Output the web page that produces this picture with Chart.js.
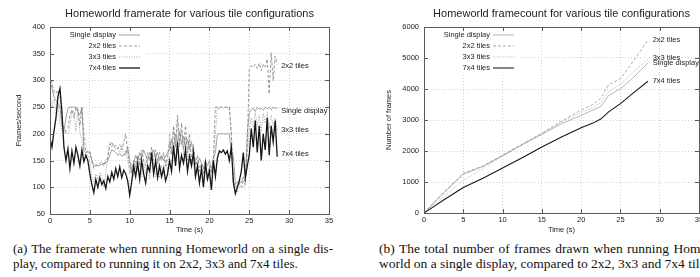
<!DOCTYPE html>
<html>
<head>
<meta charset="utf-8">
<script src="https://cdn.jsdelivr.net/npm/chart.js@4.4.1/dist/chart.umd.min.js"></script>
<style>
  html, body { margin: 0; padding: 0; background: #fff; }
  body { width: 700px; height: 277px; overflow: hidden; position: relative; }
  canvas { position: absolute; top: 0; }
  #rate { left: 0; }
  #count { left: 350px; }
  .caption { position: absolute; font-family: "Liberation Serif", "Times New Roman", serif; font-size: 13px; line-height: 15px; color: #111; }
  .caption div { white-space: nowrap; }
  .caption .just { text-align: justify; text-align-last: justify; white-space: normal; }
</style>
</head>
<body>
<canvas id="rate" width="350" height="240"></canvas>
<canvas id="count" width="360" height="240"></canvas>
<div class="caption" style="left:13px; top:241px; width:320px;">
  <div class="just">(a) The framerate when running Homeworld on a single dis-</div>
  <div>play, compared to running it on 2x2, 3x3 and 7x4 tiles.</div>
</div>
<div class="caption" style="left:379px; top:241px; width:332px; font-size:13.5px;">
  <div class="just">(b) The total number of frames drawn when running Home-</div>
  <div>world on a single display, compared to 2x2, 3x3 and 7x4 tiles.</div>
</div>
<script>
// framerate samples, one every 0.25 s (four per line = one second)
const STEP = 0.25;
const seriesNames = ['Single display', '2x2 tiles', '3x3 tiles', '7x4 tiles'];

const rateSingle = [
  300, 285, 270, 262,  258, 250, 215, 205,  230, 248, 250, 250,  250, 250, 240, 235,
  250, 168, 165, 166,  165, 150, 140, 142,  140, 141, 143, 145,  145, 150, 160, 170,
  168, 165, 160, 163,  158, 160, 162, 175,  150, 130, 145, 160,  150, 165, 155, 170,
  160, 150, 165, 158,  170, 155, 165, 150,  160, 150, 158, 165,  170, 190, 175, 200,
  185, 205, 180, 195,  175, 190, 170, 185,  160, 150, 140, 155,  145, 135, 150, 140,
  150, 130, 155, 165,  200, 200, 200, 200,  200, 200, 200, 165,  160, 105, 110, 112,
  108, 120, 110, 200,  240, 245, 248, 242,  250, 246, 248, 244,  250, 247, 250, 245,
  250, 248, 248
];
const rate2x2 = [
  310, 295, 280, 275,  282, 270, 230, 200,  205, 210, 235, 245,  230, 250, 245, 215,
  248, 200, 165, 168,  168, 150, 135, 140,  142, 145, 148, 140,  150, 155, 178, 185,
  175, 178, 172, 180,  170, 185, 200, 165,  140, 125, 150, 135,  160, 140, 170, 150,
  140, 165, 150, 175,  150, 170, 145, 165,  150, 165, 140, 160,  185, 160, 215, 175,
  235, 180, 220, 170,  215, 165, 200, 150,  180, 140, 160, 130,  145, 125, 150, 120,
  140, 125, 160, 250,  250, 250, 250, 250,  250, 250, 250, 200,  110, 100, 105, 108,
  100, 112, 105, 180,  320, 328, 325, 330,  322, 332, 318, 330,  325, 340, 275, 352,
  300, 345, 330
];
const rate3x3 = [
  280, 250, 265, 240,  255, 220, 205, 215,  200, 200, 210, 245,  240, 205, 250, 200,
  190, 160, 162, 160,  150, 120, 110, 125,  115, 128, 120, 100,  125, 160, 185, 175,
  180, 170, 175, 165,  178, 160, 170, 150,  125, 145, 120, 150,  130, 155, 120, 145,
  125, 150, 115, 160,  135, 120, 155, 118,  140, 125, 150, 130,  200, 165, 210, 180,
  225, 175, 205, 160,  195, 150, 185, 140,  150, 120, 135, 110,  130, 105, 140, 112,
  120, 108, 135, 200,  250, 245, 250, 248,  250, 248, 250, 200,  100,  95,  90, 105,
  102,  98, 110, 160,  205, 230, 210, 240,  215, 235, 205, 238,  220, 240, 210, 235,
  215, 230, 208
];
const rate7x4 = [
  192, 175, 205, 230,  270, 285, 240, 175,  150, 172, 135, 168,  145, 175, 160, 140,
  170, 148, 160, 150,  125, 105,  90, 115,  100, 118, 105, 112,   98, 120, 110, 128,
  115, 135, 120, 138,  118, 132, 125, 112,   85, 110, 140, 120,  145, 115, 150, 125,
  108, 140, 130, 165,  125, 150, 118, 140,  120, 135, 112, 125,  150, 130, 178, 140,
  185, 135, 160, 145,  170, 130, 158, 140,  165, 120, 140, 108,  135, 100, 145, 115,
  130,  95, 150, 120,  155, 168, 165, 170,  162, 168, 150, 175,  110,  88, 100, 112,
  130, 165, 118, 140,  160, 210, 175, 225,  165, 215, 150, 200,  170, 230, 160, 215,
  185, 225, 157
];
const rateTimes = rate7x4.map((v, i) => i * STEP);
const rateLabelY = [243, 328, 208, 163];

// cumulative frame counts
const countTimes = [0, 2.5, 5, 7.5, 10, 12.5, 15, 17.5, 20, 21.5, 22.5, 23.5, 25, 26.5, 28.5];
const countSingle = [0, 650, 1250, 1500, 1850, 2200, 2540, 2880, 3150, 3320, 3440, 3790, 4010, 4330, 4840];
const count2x2 = [0, 660, 1280, 1520, 1860, 2220, 2570, 2960, 3320, 3500, 3700, 4140, 4330, 4850, 5570];
const count3x3 = [0, 520, 1060, 1430, 1840, 2210, 2560, 2930, 3240, 3400, 3560, 3930, 4150, 4530, 4950];
const count7x4 = [0, 420, 820, 1120, 1450, 1780, 2130, 2450, 2750, 2900, 3030, 3260, 3530, 3840, 4250];
const countLabelY = [4829, 5580, 4990, 4258];

const lineStyles = [
  { color: '#8c8c8c', width: 0.8, dash: [] },
  { color: '#7c7c7c', width: 0.8, dash: [3, 2] },
  { color: '#8c8c8c', width: 0.8, dash: [1, 1.5] },
  { color: '#161616', width: 1.3, dash: [] }
];

const SANS = '"Liberation Sans", Arial, Helvetica, sans-serif';

// gnuplot style frame: title, inside ticks, opaque key, end labels
const gnuplotFrame = {
  id: 'gnuplotFrame',
  afterDraw(chart, args, o) {
    const { ctx, chartArea: a, scales: { x, y } } = chart;
    ctx.save();

    // opaque key
    ctx.fillStyle = '#fff';
    ctx.fillRect(a.left + 1, a.top + 1, 94, 46);

    // border + ticks
    ctx.strokeStyle = '#5a5a5a';
    ctx.lineWidth = 1;
    ctx.setLineDash([]);
    ctx.beginPath();
    x.ticks.forEach(t => {
      const px = Math.round(x.getPixelForValue(t.value)) + 0.5;
      ctx.moveTo(px, a.bottom); ctx.lineTo(px, a.bottom - 4);
      ctx.moveTo(px, a.top); ctx.lineTo(px, a.top + 4);
    });
    y.ticks.forEach(t => {
      const py = Math.round(y.getPixelForValue(t.value)) + 0.5;
      ctx.moveTo(a.left, py); ctx.lineTo(a.left + 4, py);
      ctx.moveTo(a.right, py); ctx.lineTo(a.right - 4, py);
    });
    ctx.stroke();
    ctx.strokeRect(Math.round(a.left) + 0.5, Math.round(a.top) + 0.5,
      Math.round(a.width), Math.round(a.height));

    // key rows
    ctx.font = '7.5px ' + SANS;
    ctx.fillStyle = '#222';
    ctx.textBaseline = 'middle';
    seriesNames.forEach((name, i) => {
      const ry = a.top + 7.5 + i * 11;
      ctx.textAlign = 'right';
      ctx.fillText(name, a.left + 66, ry);
      const s = lineStyles[i];
      ctx.strokeStyle = s.color;
      ctx.lineWidth = o.lineScale * s.width;
      ctx.setLineDash(s.dash);
      ctx.beginPath();
      ctx.moveTo(a.left + 69, ry + 0.5);
      ctx.lineTo(a.left + 90, ry + 0.5);
      ctx.stroke();
    });
    ctx.setLineDash([]);

    // labels at line ends
    ctx.textAlign = 'left';
    ctx.fillStyle = '#222';
    seriesNames.forEach((name, i) => {
      ctx.fillText(name, x.getPixelForValue(o.labelX), y.getPixelForValue(o.labelY[i]));
    });

    // title and axis titles
    ctx.textAlign = 'center';
    ctx.font = '11px ' + SANS;
    ctx.fillText(o.title, (a.left + a.right) / 2, 14);
    ctx.font = '7.5px ' + SANS;
    ctx.fillText('Time (s)', (a.left + a.right) / 2, 230);
    ctx.translate(o.yTitleX, (a.top + a.bottom) / 2);
    ctx.rotate(-Math.PI / 2);
    ctx.fillText(o.yTitle, 0, 0);
    ctx.restore();
  }
};

function makeChart(id, times, values, cfg) {
  const datasets = values.map((vals, i) => ({
    label: seriesNames[i],
    data: vals.map((v, k) => ({ x: times[k], y: v })),
    borderColor: lineStyles[i].color,
    borderWidth: lineStyles[i].width * cfg.frame.lineScale,
    borderDash: lineStyles[i].dash,
    pointRadius: 0,
    tension: 0,
    fill: false,
    order: 3 - i
  }));
  const tickFont = { family: SANS, size: 7.5 };
  return new Chart(document.getElementById(id), {
    type: 'line',
    data: { datasets },
    options: {
      responsive: false,
      animation: false,
      layout: { padding: { top: 27, right: cfg.padRight, left: 0, bottom: 0 } },
      plugins: {
        legend: { display: false },
        tooltip: { enabled: false },
        gnuplotFrame: cfg.frame
      },
      scales: {
        x: {
          type: 'linear', min: 0, max: 35,
          ticks: { stepSize: 5, font: tickFont, color: '#222', padding: 2, maxRotation: 0 },
          grid: { color: '#c4c4c4', lineWidth: 0.8, drawTicks: false },
          border: { display: false, dash: [1, 2] },
          afterFit: s => { s.height = cfg.xHeight; }
        },
        y: {
          min: cfg.yMin, max: cfg.yMax,
          ticks: { stepSize: cfg.yStep, font: tickFont, color: '#222', padding: 5, callback: v => String(v) },
          grid: { color: '#c4c4c4', lineWidth: 0.8, drawTicks: false },
          border: { display: false, dash: [1, 2] },
          afterFit: s => { s.width = cfg.yWidth; }
        }
      }
    },
    plugins: [gnuplotFrame]
  });
}

makeChart('rate', rateTimes, [rateSingle, rate2x2, rate3x3, rate7x4], {
  padRight: 21, xHeight: 26, yWidth: 50, yMin: 50, yMax: 400, yStep: 50,
  frame: {
    title: 'Homeworld framerate for various tile configurations',
    yTitle: 'Frames/second', yTitleX: 18.5,
    labelX: 29, labelY: rateLabelY, lineScale: 1
  }
});

makeChart('count', countTimes, [countSingle, count2x2, count3x3, count7x4], {
  padRight: 11, xHeight: 27, yWidth: 74, yMin: 0, yMax: 6000, yStep: 1000,
  frame: {
    title: 'Homeworld framecount for various tile configurations',
    yTitle: 'Number of frames', yTitleX: 38.5,
    labelX: 29.1, labelY: countLabelY, lineScale: 0.8
  }
});
</script>
</body>
</html>
